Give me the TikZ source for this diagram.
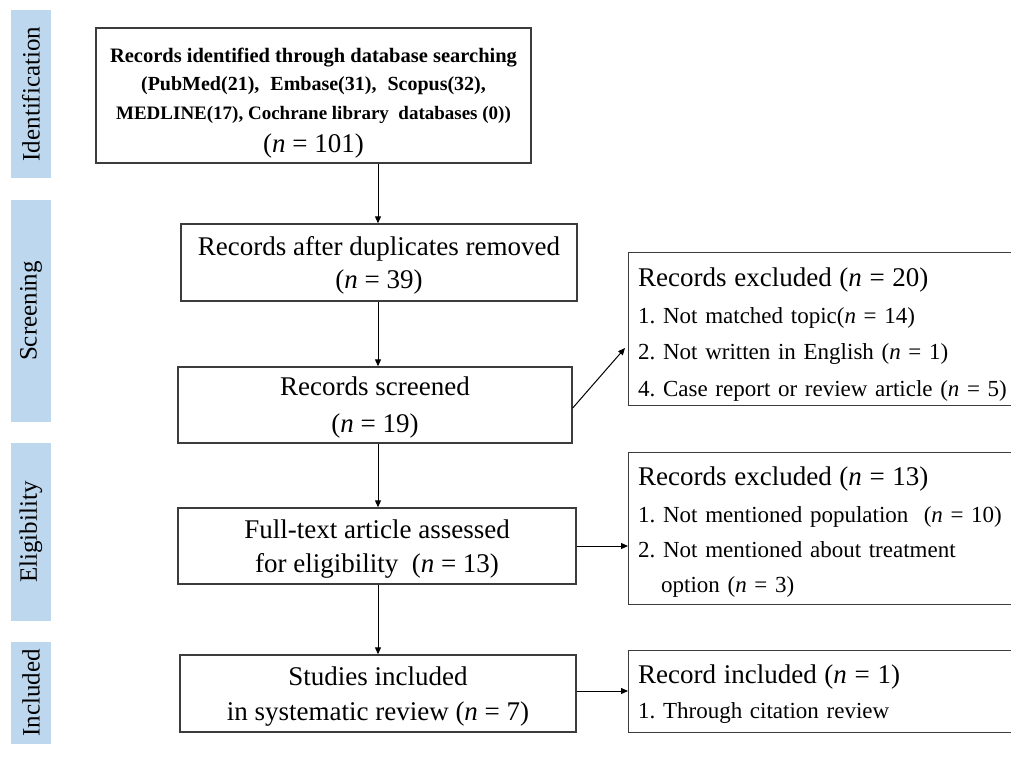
\documentclass[tikz,border=0pt]{standalone}
\usepackage{fontspec}
\setmainfont{Liberation Serif}
\usetikzlibrary{arrows.meta}
\definecolor{lblue}{RGB}{189,215,238}
\definecolor{boxline}{RGB}{60,60,60}
\newcommand\myfs[2]{\fontsize{#1}{#2}\selectfont}
\newcommand\tstrut[1]{\rule{0pt}{#1}}
\begin{document}
\frenchspacing
\begin{tikzpicture}[x=1pt,y=-1pt,
  box/.style={draw=boxline, line width=1.4pt, rectangle, inner sep=0pt, align=center},
  rbox/.style={draw=boxline, line width=1.4pt, rectangle, inner sep=0pt, minimum width=420pt, anchor=north west},
  rtext/.style={anchor=base west, inner sep=0pt, text width=400pt, align=left, font=\frenchspacing\myfs{23}{36}},
  side/.style={fill=lblue, rotate=90, minimum height=40pt, inner sep=0pt, font=\myfs{25}{25}},
  arr/.style={draw=black, line width=1pt, -{Triangle[length=7pt,width=6pt]}}]
\useasboundingbox (0,0) rectangle (1011,758);
\clip (0,0) rectangle (1011,758);

% side labels
\node[side, minimum width=168pt] (sid) at (31,94) {Identification};
\node[side, minimum width=222pt] (sscr) at (31,311) {Screening};
\node[side, minimum width=178pt] (selg) at (31,532) {Eligibility};
\node[side, minimum width=102pt] (sinc) at (31,693) {Included};

% main column
\node[box, minimum width=435pt, minimum height=135pt, font=\bfseries\myfs{19}{28}] (b1) at (313.5,95.5)
  {\tstrut{29pt}{\myfs{20.5}{28}Records identified through database searching}\\
   {\myfs{20}{28}(PubMed(21),\hspace{11pt}Embase(31),\hspace{11pt}Scopus(32),}\\[1pt]
   MEDLINE(17), Cochrane library\ \ databases (0))\\[5pt]
   {\mdseries\myfs{27}{28}(\textit{n} = 101)}};
\node[box, minimum width=396pt, minimum height=77pt, font=\myfs{27}{33}] (b2) at (379,262.5)
  {\tstrut{24pt}Records after duplicates removed\\(\textit{n} = 39)};
\node[box, minimum width=394pt, minimum height=76pt, font=\myfs{27}{37}] (b3) at (375,405)
  {\tstrut{24pt}Records screened\\(\textit{n} = 19)};
\node[box, minimum width=398pt, minimum height=76pt, font=\myfs{27}{34}] (b4) at (377,546)
  {\tstrut{24pt}Full-text article assessed\\for eligibility\ \ (\textit{n} = 13)};
\node[box, minimum width=396pt, minimum height=77pt, font=\myfs{27}{35}] (b5) at (378,693.5)
  {\tstrut{24pt}Studies included\\in systematic review (\textit{n} = 7)};

% right column
\node[rbox, minimum height=153pt] (r1) at (628,252) {};
\node[rtext] (r1t) at (638,286)
  {{\myfs{27}{36}Records excluded (\textit{n} = 20)}\\[1pt]
   1. Not matched\ topic(\textit{n} = 14)\\
   2. Not written in English (\textit{n} = 1)\\[1pt]
   4. Case report or review article (\textit{n} = 5)};
\node[rbox, minimum height=152pt] (r2) at (628,452) {};
\node[rtext] (r2t) at (638,485)
  {{\myfs{27}{36}Records excluded (\textit{n} = 13)}\\[1pt]
   1. Not mentioned\ population\ \ (\textit{n} = 10)\\[-1pt]
   2. Not mentioned\ about treatment\\[-1pt]
   \hspace*{23pt}option (\textit{n} = 3)};
\node[rbox, minimum height=82pt] (r3) at (628,650) {};
\node[rtext] (r3t) at (638,683)
  {{\myfs{27}{36}Record included (\textit{n} = 1)}\\[-1pt]
   1. Through\ citation review};

% connectors
\coordinate (ax) at (378,0);
\coordinate (r1in) at (625,348);
\draw[arr] (ax |- b1.south) -- (ax |- b2.north);
\draw[arr] (ax |- b2.south) -- (ax |- b3.north);
\draw[arr] (ax |- b3.south) -- (ax |- b4.north);
\draw[arr] (ax |- b4.south) -- (ax |- b5.north);
\draw[arr] ([yshift=-3pt]b3.east) -- (r1in);
\draw[arr] (b4.east) -- (b4.east -| r2.west);
\draw[arr] ([yshift=2.5pt]b5.east) -- ([yshift=2.5pt]b5.east -| r3.west);
\end{tikzpicture}
\end{document}
